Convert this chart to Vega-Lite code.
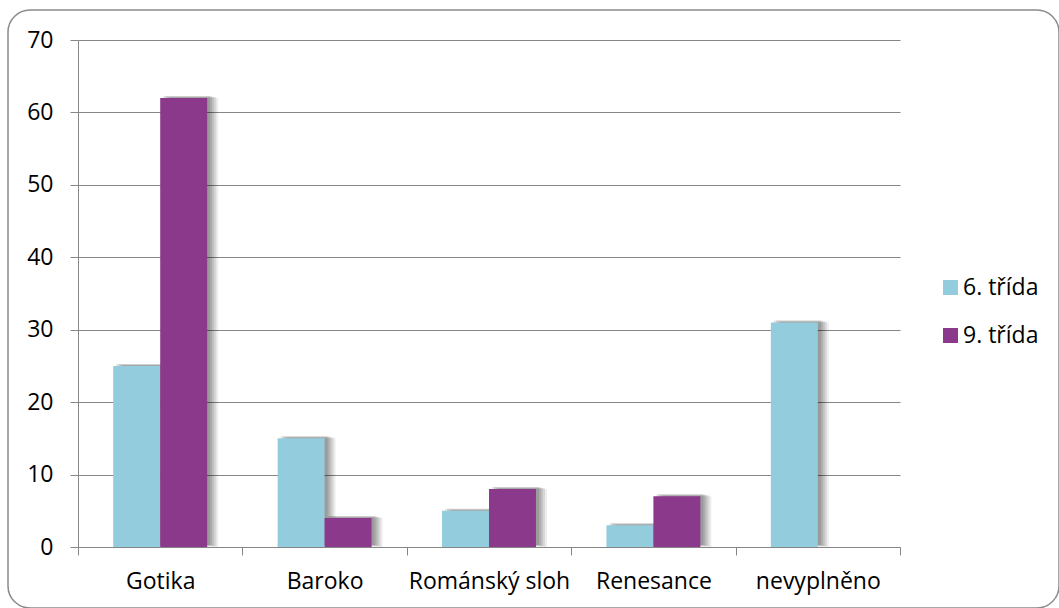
{
  "$schema": "https://vega.github.io/schema/vega-lite/v6.json",
  "width": 1051,
  "height": 598,
  "padding": {"left": 8, "top": 10, "right": 0, "bottom": 0},
  "autosize": {"type": "none"},
  "background": "white",
  "config": {
    "view": {"stroke": "#8a8a8a", "strokeWidth": 1.5, "cornerRadius": 22},
    "font": "Open Sans",
    "axis": {"labelColor": "#000000", "domainColor": "#868686", "tickColor": "#868686", "gridColor": "#868686", "domainWidth": 1, "tickWidth": 1, "gridWidth": 1, "labelFontSize": 23, "labelFont": "Open Sans"}
  },
  "data": {
    "values": [
      {"kategorie": "Gotika", "trida": "6. třída", "hodnota": 25},
      {"kategorie": "Gotika", "trida": "9. třída", "hodnota": 62},
      {"kategorie": "Baroko", "trida": "6. třída", "hodnota": 15},
      {"kategorie": "Baroko", "trida": "9. třída", "hodnota": 4},
      {"kategorie": "Románský sloh", "trida": "6. třída", "hodnota": 5},
      {"kategorie": "Románský sloh", "trida": "9. třída", "hodnota": 8},
      {"kategorie": "Renesance", "trida": "6. třída", "hodnota": 3},
      {"kategorie": "Renesance", "trida": "9. třída", "hodnota": 7},
      {"kategorie": "nevyplněno", "trida": "6. třída", "hodnota": 31},
      {"kategorie": "nevyplněno", "trida": "9. třída", "hodnota": 0}
    ]
  },
  "encoding": {
    "x": {
      "field": "kategorie", "type": "nominal", "sort": null,
      "scale": {"range": [70, 892], "paddingInner": 0, "paddingOuter": 0},
      "axis": {"title": null, "orient": "bottom", "offset": -61, "labelAngle": 0, "tickBand": "extent", "tickSize": 8, "labelPadding": 15, "grid": false}
    },
    "y": {
      "field": "hodnota", "type": "quantitative",
      "scale": {"domain": [0, 70], "range": [537, 30], "nice": false, "zero": true},
      "axis": {"title": null, "offset": -70, "values": [0, 10, 20, 30, 40, 50, 60, 70], "grid": true, "tickSize": 8, "labelPadding": 17}
    }
  },
  "layer": [
    {
      "mark": {"type": "bar", "color": "#000000", "opacity": 0.1, "yOffset": -2},
      "encoding": {"xOffset": {"field": "trida", "type": "nominal", "sort": ["6. třída", "9. třída"], "scale": {"paddingInner": 0, "paddingOuter": 0.75, "align": 0.543}}}
    },
    {
      "mark": {"type": "bar", "color": "#000000", "opacity": 0.1, "yOffset": -2},
      "encoding": {"xOffset": {"field": "trida", "type": "nominal", "sort": ["6. třída", "9. třída"], "scale": {"paddingInner": 0, "paddingOuter": 0.75, "align": 0.571}}}
    },
    {
      "mark": {"type": "bar", "color": "#000000", "opacity": 0.1, "yOffset": -1},
      "encoding": {"xOffset": {"field": "trida", "type": "nominal", "sort": ["6. třída", "9. třída"], "scale": {"paddingInner": 0, "paddingOuter": 0.75, "align": 0.599}}}
    },
    {
      "mark": {"type": "bar", "color": "#000000", "opacity": 0.09, "yOffset": -1},
      "encoding": {"xOffset": {"field": "trida", "type": "nominal", "sort": ["6. třída", "9. třída"], "scale": {"paddingInner": 0, "paddingOuter": 0.75, "align": 0.628}}}
    },
    {
      "mark": {"type": "bar", "color": "#000000", "opacity": 0.07},
      "encoding": {"xOffset": {"field": "trida", "type": "nominal", "sort": ["6. třída", "9. třída"], "scale": {"paddingInner": 0, "paddingOuter": 0.75, "align": 0.656}}}
    },
    {
      "mark": {"type": "bar"},
      "encoding": {
        "xOffset": {"field": "trida", "type": "nominal", "sort": ["6. třída", "9. třída"], "scale": {"paddingInner": 0, "paddingOuter": 0.75, "align": 0.5}},
        "color": {
          "field": "trida", "type": "nominal", "sort": ["6. třída", "9. třída"],
          "scale": {"range": ["#93CDDD", "#8B3A8B"]},
          "legend": {"title": null, "orient": "none", "legendX": 931, "legendY": 266, "symbolType": "square", "symbolSize": 225, "symbolStrokeWidth": 0, "labelFontSize": 23, "labelColor": "#000000", "rowPadding": 24, "labelOffset": 1, "padding": 0}
        }
      }
    }
  ],
  "resolve": {"scale": {"xOffset": "independent"}}
}
